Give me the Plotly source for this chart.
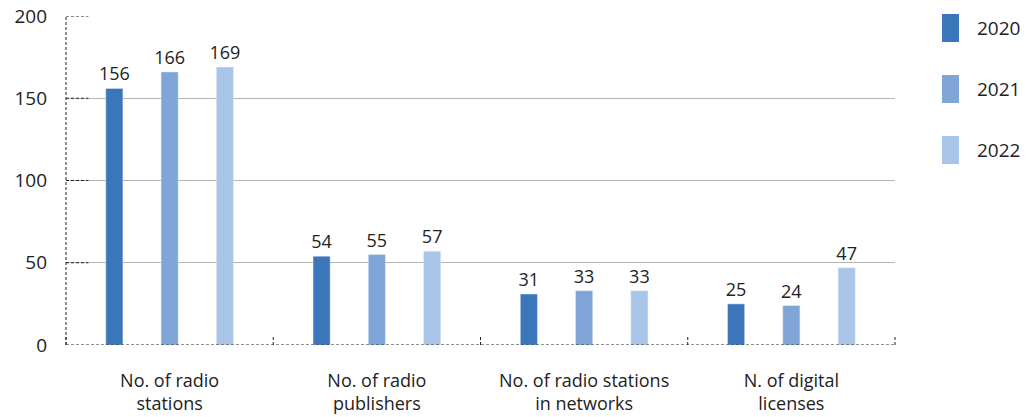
import plotly.graph_objects as go

categories = ["No. of radio<br>stations", "No. of radio<br>publishers",
              "No. of radio stations<br>in networks", "N. of digital<br>licenses"]
years = ["2020", "2021", "2022"]
values_2020 = [156, 54, 31, 25]
values_2021 = [166, 55, 33, 24]
values_2022 = [169, 57, 33, 47]
y_ticks = [0, 50, 100, 150, 200]

colors = ["#3b76bb", "#7fa5d7", "#a9c6e9"]
font_family = "'Open Sans', Lato, sans-serif"
text_color = "#222222"

fig = go.Figure()
for name, vals, col in zip(years, [values_2020, values_2021, values_2022], colors):
    fig.add_trace(go.Bar(
        x=categories, y=vals, name=name, marker_color=col,
        text=[str(v) for v in vals], textposition="outside",
        textfont=dict(size=18, color=text_color, family=font_family),
        cliponaxis=False, showlegend=False,
    ))

# dashed axis frame: left axis line, baseline, short tick dashes
dash_line = dict(color="#222222", width=1, dash="3px,2px")
fig.add_shape(type="line", xref="paper", yref="y", x0=0, x1=0, y0=0, y1=200, line=dash_line)
fig.add_shape(type="line", xref="paper", yref="y", x0=0, x1=1, y0=0, y1=0, line=dash_line)
for t in y_ticks[1:]:
    fig.add_shape(type="line", xref="paper", yref="y", x0=0, x1=0.027, y0=t, y1=t, line=dash_line)
for i in range(len(categories) + 1):
    fig.add_shape(type="line", xref="paper", yref="y", x0=i / len(categories), x1=i / len(categories),
                  y0=0, y1=5, line=dash_line)

# legend as tall colour swatches
for i, (name, col) in enumerate(zip(years, colors)):
    yc = 28 + 61 * i
    fig.add_shape(type="rect", xref="paper", yref="paper",
                  x0=(942 - 66) / 829, x1=(959 - 66) / 829,
                  y0=(345 - (yc - 14)) / 329, y1=(345 - (yc + 14)) / 329,
                  fillcolor=col, line_width=0)
    fig.add_annotation(xref="paper", yref="paper", x=(975 - 66) / 829, y=(345 - yc) / 329,
                       text=name, showarrow=False, xanchor="left", yanchor="middle",
                       font=dict(size=19, color=text_color, family=font_family))

fig.update_layout(
    width=1035, height=417,
    margin=dict(l=66, r=140, t=16, b=72),
    paper_bgcolor="white", plot_bgcolor="white",
    barmode="group", bargap=0.2, bargroupgap=0.69,
    uniformtext=dict(minsize=18, mode="show"),
    font=dict(family=font_family, color=text_color),
    xaxis=dict(showline=False, showgrid=False, ticks="", ticklabelstandoff=23,
               automargin=False,
               tickfont=dict(size=18, color=text_color, family=font_family)),
    yaxis=dict(range=[0, 200], tickvals=y_ticks, showline=False, zeroline=False,
               showgrid=True, gridcolor="#b5b5b5", gridwidth=1, ticks="",
               ticklabelstandoff=18, automargin=False,
               tickfont=dict(size=19, color=text_color, family=font_family)),
)

fig.write_html("out.html")
